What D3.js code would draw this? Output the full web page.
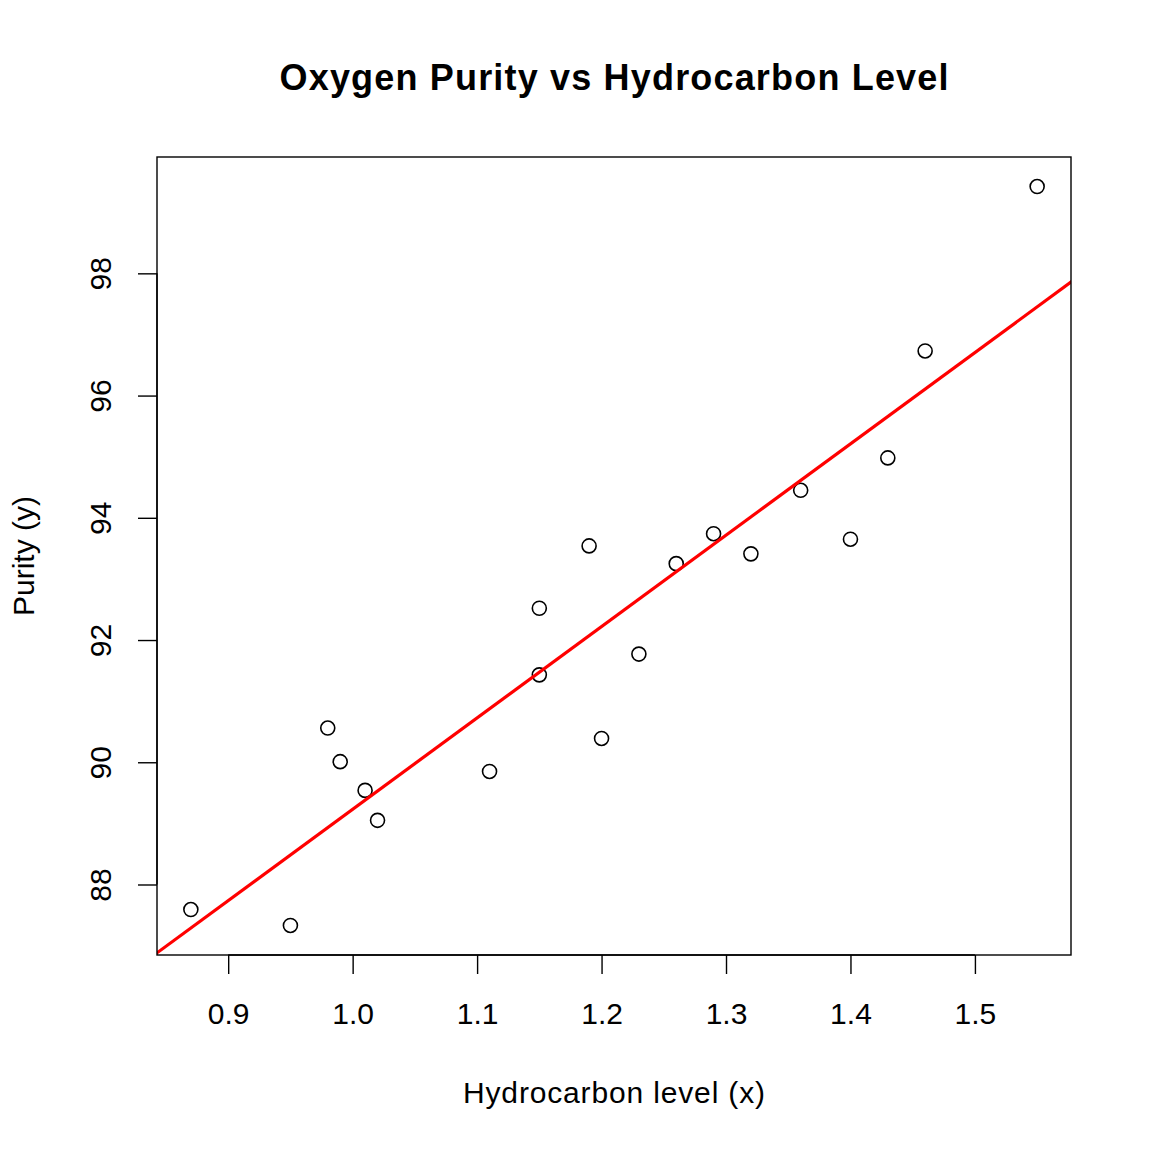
<!DOCTYPE html>
<html>
<head>
<meta charset="utf-8">
<script src="https://cdn.jsdelivr.net/npm/d3@7"></script>
<style>
  body { margin: 0; background: #fff; }
  text { font-family: "Liberation Sans", Arial, sans-serif; fill: #000; }
</style>
</head>
<body>
<svg width="1152" height="1152"></svg>
<script>
"use strict";

// hydrocarbon level (x) and purity (y)
const hydrocarbon = [0.99, 1.02, 1.15, 1.29, 1.46, 1.36, 0.87, 1.23, 1.55, 1.40,
                     1.19, 1.15, 0.98, 1.01, 1.11, 1.20, 1.26, 1.32, 1.43, 0.95];
const purity = [90.01, 89.05, 91.43, 93.74, 96.73, 94.45, 87.59, 91.77, 99.42, 93.65,
                93.54, 92.52, 90.56, 89.54, 89.85, 90.39, 93.25, 93.41, 94.98, 87.33];
const xTicks = [0.9, 1.0, 1.1, 1.2, 1.3, 1.4, 1.5];
const yTicks = [88, 90, 92, 94, 96, 98];

const chartTitle = "Oxygen Purity vs Hydrocarbon Level",
      xLabel = "Hydrocarbon level (x)",
      yLabel = "Purity (y)";

const svg = d3.select("svg");
const box = { left: 157, right: 1071, top: 157, bottom: 955 },
      tickLen = 19,
      fontSize = 30;

// R style 4% padding on the data range
function padded(vals) {
    let [lo, hi] = d3.extent(vals);
    let p = (hi - lo) * 0.04;
    return [lo - p, hi + p];
}

let scaleX = d3.scaleLinear().domain(padded(hydrocarbon)).range([box.left, box.right]);
let scaleY = d3.scaleLinear().domain(padded(purity)).range([box.bottom, box.top]);

// least squares fit
let mx = d3.mean(hydrocarbon), my = d3.mean(purity);
let sxy = d3.sum(hydrocarbon, (x, i) => (x - mx) * (purity[i] - my));
let sxx = d3.sum(hydrocarbon, x => (x - mx) * (x - mx));
let slope = sxy / sxx, intercept = my - slope * mx;

svg.append("clipPath").attr("id", "plotclip")
    .append("rect")
    .attr("x", box.left).attr("y", box.top)
    .attr("width", box.right - box.left).attr("height", box.bottom - box.top);

// points
svg.append("g")
    .selectAll("circle")
    .data(hydrocarbon)
    .enter()
    .append("circle")
    .attr("cx", d => scaleX(d))
    .attr("cy", (d, i) => scaleY(purity[i]))
    .attr("r", 7)
    .attr("fill", "none")
    .attr("stroke", "#000")
    .attr("stroke-width", 1.6);

// fitted line
let xd = scaleX.domain();
svg.append("line")
    .attr("clip-path", "url(#plotclip)")
    .attr("x1", scaleX(xd[0] - 1)).attr("y1", scaleY(intercept + slope * (xd[0] - 1)))
    .attr("x2", scaleX(xd[1] + 1)).attr("y2", scaleY(intercept + slope * (xd[1] + 1)))
    .attr("stroke", "#ff0000")
    .attr("stroke-width", 3.2);

// plot box
svg.append("rect")
    .attr("x", box.left).attr("y", box.top)
    .attr("width", box.right - box.left).attr("height", box.bottom - box.top)
    .attr("fill", "none").attr("stroke", "#000").attr("stroke-width", 1.4);

// x axis
let xAxis = d3.axisBottom(scaleX).tickValues(xTicks).tickFormat(d3.format(".1f"))
    .tickSizeInner(tickLen).tickSizeOuter(0).tickPadding(29);
let gx = svg.append("g")
    .attr("transform", `translate(0, ${box.bottom})`)
    .call(xAxis);
gx.select(".domain").attr("d", `M${scaleX(xTicks[0])},0H${scaleX(xTicks[xTicks.length - 1])}`);

// y axis
let yAxis = d3.axisLeft(scaleY).tickValues(yTicks)
    .tickSizeInner(tickLen).tickSizeOuter(0).tickPadding(0);
let gy = svg.append("g")
    .attr("transform", `translate(${box.left}, 0)`)
    .call(yAxis);
gy.select(".domain").attr("d", `M0,${scaleY(yTicks[0])}V${scaleY(yTicks[yTicks.length - 1])}`);
gy.selectAll(".tick text")
    .attr("x", 0)
    .attr("text-anchor", "middle")
    .attr("transform", "translate(-57, 0) rotate(-90)")
    .attr("dy", "0.35em");

svg.selectAll(".domain, .tick line").attr("stroke", "#000").attr("stroke-width", 1.4);
svg.selectAll(".tick text").attr("font-size", fontSize).attr("font-family", "Liberation Sans, Arial, sans-serif");

// titles
svg.append("text")
    .text(chartTitle)
    .attr("x", (box.left + box.right) / 2).attr("y", 90)
    .attr("text-anchor", "middle")
    .attr("font-size", 36).attr("font-weight", "bold")
    .attr("textLength", 669);

svg.append("text")
    .text(xLabel)
    .attr("x", (box.left + box.right) / 2).attr("y", 1103)
    .attr("text-anchor", "middle")
    .attr("font-size", fontSize)
    .attr("textLength", 302);

svg.append("text")
    .text(yLabel)
    .attr("transform", `translate(34, ${(box.top + box.bottom) / 2}) rotate(-90)`)
    .attr("text-anchor", "middle")
    .attr("font-size", fontSize);
</script>
</body>
</html>
